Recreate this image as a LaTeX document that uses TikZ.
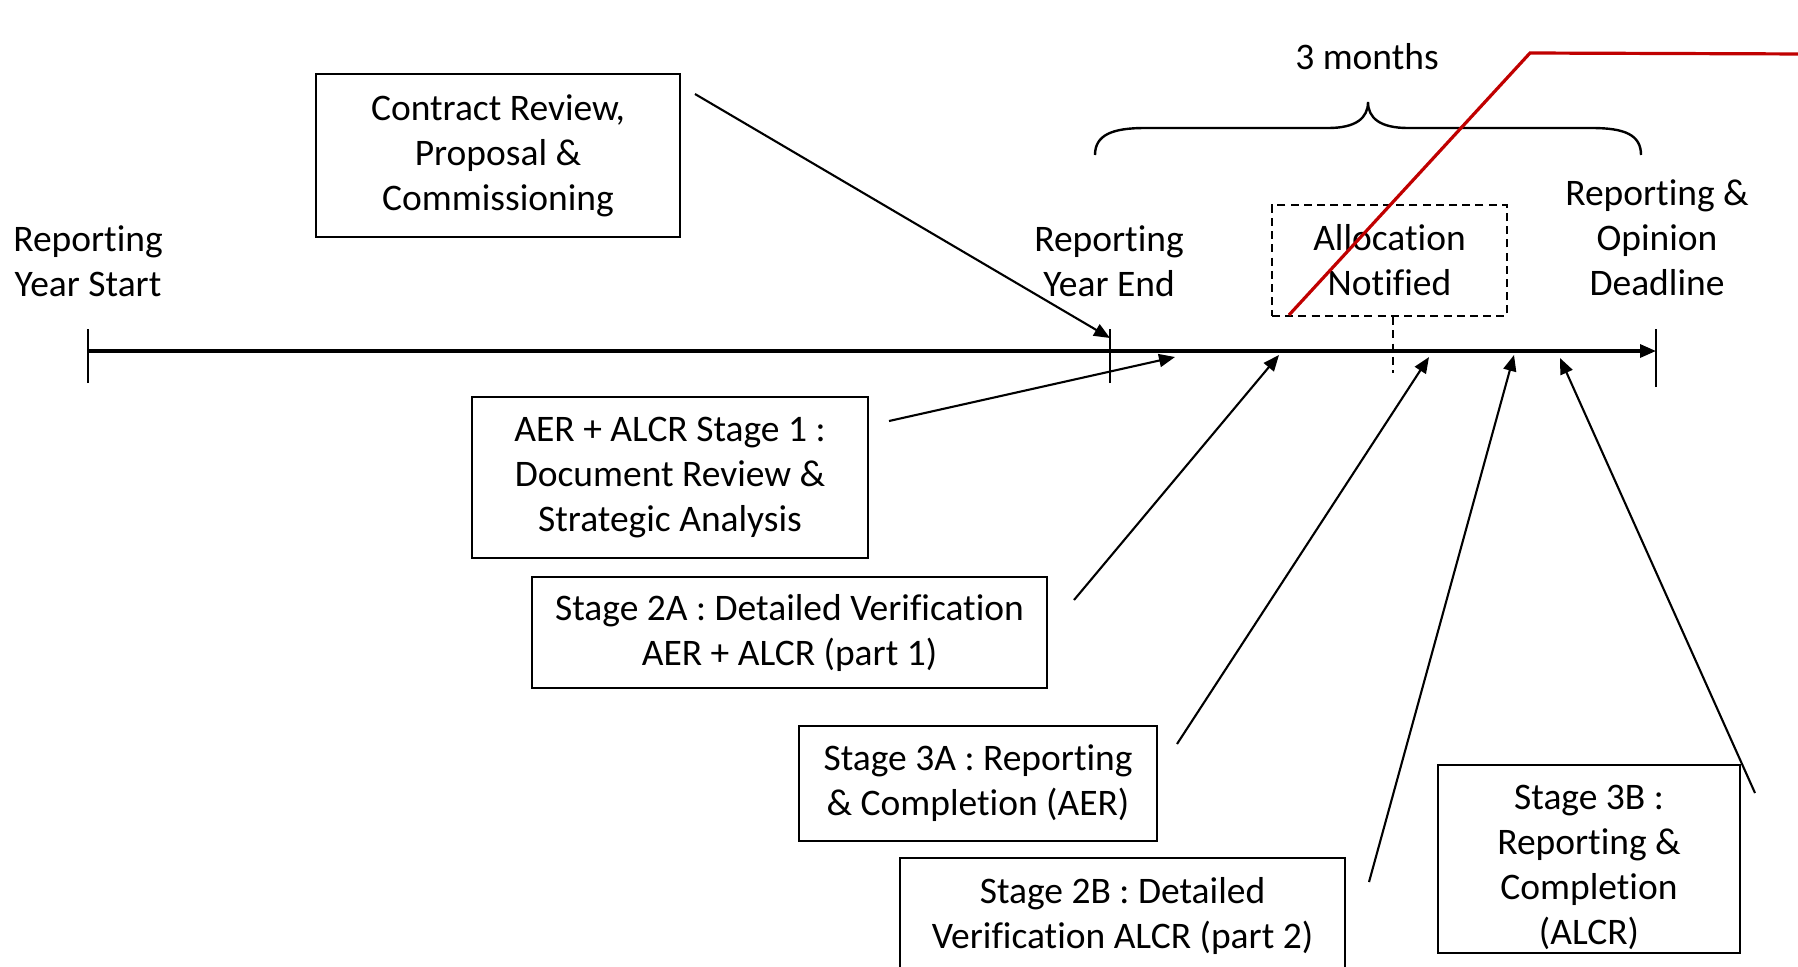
\documentclass[tikz,border=0pt]{standalone}
\usepackage{fontspec}
\setmainfont{Carlito}[Ligatures=NoCommon]
\usetikzlibrary{arrows.meta}
\begin{document}
\begin{tikzpicture}[x=0.5pt,y=-0.5pt,
  txt/.style={align=center, inner sep=0pt, font=\fontsize{18.75pt}{22.5pt}\selectfont},
  box/.style={txt, draw, line width=1.3pt},
  boxline/.style={line width=1.3pt},
  dbox/.style={txt, draw, line width=1.2pt, dash pattern=on 4pt off 2.6pt},
  arr/.style={line width=1.05pt, -{Triangle[length=8pt,width=6.5pt]}},
  tl/.style={line width=1.6pt},
  tick/.style={line width=1.2pt},
  redln/.style={line width=1.6pt, draw={rgb,255:red,192;green,0;blue,0}},
  bracestyle/.style={line width=1.2pt}
]
\useasboundingbox (0,0) rectangle (1798,966);
\clip (0,0) rectangle (1798,966);

% timeline
\coordinate (t0) at (88,351);
\coordinate (t1) at (1656,351);
\coordinate (tye) at (1110,351);
\draw[tl, -{Triangle[length=8pt,width=6.5pt]}] (t0) -- (t1);
\draw[tick] ([yshift=-16pt]t0) -- ([yshift=11pt]t0);
\draw[tick] ([yshift=-18pt]t1) -- ([yshift=11pt]t1);
\draw[tick] ([yshift=-16pt]tye) -- ([yshift=11pt]tye);

% labels
\node[txt] (start) at (88,261) {Reporting\\Year Start};
\node[txt] (yend) at (1109,261) {Reporting\\Year End};
\node[txt] (deadline) at (1657,238) {Reporting \&\\Opinion\\Deadline};
\node[txt] (months) at (1367,57) {3 months};

% brace
\draw[bracestyle] (1095,155) .. controls (1095,135) and (1112,128) .. (1145,128)
  -- (1328,128) .. controls (1356,128) and (1368,118) .. (1368,102)
  .. controls (1368,118) and (1380,128) .. (1408,128)
  -- (1592,128) .. controls (1625,128) and (1641,135) .. (1641,155);

% allocation box
\node[dbox, minimum width=117.5pt, minimum height=55.5pt] (alloc) at (1389.5,260.5) {Allocation\\Notified};
\coordinate (adrop) at (1393,373);
\draw[tick, dash pattern=on 4pt off 2.6pt] (alloc.south -| adrop) -- (adrop);

% boxes
\node[box, minimum width=182pt, minimum height=81.5pt] (contract) at (498,155.5) {Contract Review,\\Proposal \&\\Commissioning};
\node[box, minimum width=198pt, minimum height=80.5pt] (s1) at (670,477.5) {AER + ALCR Stage 1 :\\Document Review \&\\Strategic Analysis};
\node[box, minimum width=257.5pt, minimum height=55.5pt] (s2a) at (789.5,632.5) {Stage 2A : Detailed Verification\\AER + ALCR (part 1)};
\node[box, minimum width=179pt, minimum height=57.5pt] (s3a) at (978,783.5) {Stage 3A : Reporting\\\& Completion (AER)};
\node[box, minimum width=222.5pt, minimum height=57.5pt] (s2b) at (1122.5,915.5) {Stage 2B : Detailed\\Verification ALCR (part 2)};
\node[txt] (s3b) at (1589,867) {Stage 3B :\\Reporting \&\\Completion\\(ALCR)};
\draw[boxline] (1438,765) rectangle (1740,953);

% arrow anchor coordinates
\coordinate (c0) at (695,94);    \coordinate (c1) at (1110,338);
\coordinate (a0) at (889,421);   \coordinate (a1) at (1175,357);
\coordinate (b0) at (1074,600);  \coordinate (b1) at (1279,355);
\coordinate (d0) at (1177,744);  \coordinate (d1) at (1429,357);
\coordinate (e0) at (1369,882);  \coordinate (e1) at (1514,355);
\coordinate (f0) at (1755,793);  \coordinate (f1) at (1560,358);

\draw[arr] (c0) -- (c1);
\draw[arr] (a0) -- (a1);
\draw[arr] (b0) -- (b1);
\draw[arr] (d0) -- (d1);
\draw[arr] (e0) -- (e1);
\draw[arr] (f0) -- (f1);

% red line
\coordinate (r0) at (1289,315);
\coordinate (r1) at (1530,53);
\coordinate (r2) at (1810,54);
\draw[redln] (r0) -- (r1) -- (r2);
\end{tikzpicture}
\end{document}
